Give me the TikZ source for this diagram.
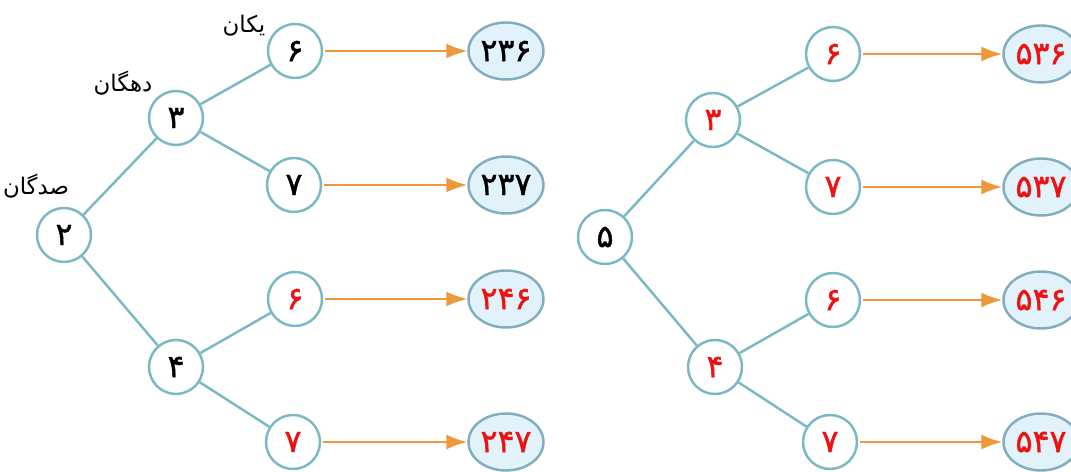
\documentclass[tikz,border=0pt]{standalone}
\usepackage{fontspec}
\usetikzlibrary{shapes.geometric,arrows.meta}
\TeXXeTstate=1
\newfontfamily\arabicfont[Script=Arabic]{DejaVu Sans}
\newfontfamily\arabicgrosso[Script=Arabic,FakeBold=1.3]{DejaVu Sans}
\definecolor{galho}{RGB}{122,184,196}
\definecolor{laranja}{RGB}{238,152,62}
\definecolor{fundo}{RGB}{226,242,250}
\definecolor{borda}{RGB}{128,174,190}
\definecolor{verm}{RGB}{236,18,18}
\tikzset{
  digito/.style={circle, draw=galho, line width=1.4pt, fill=white,
    minimum size=1.08cm, inner sep=0pt, font=\arabicgrosso\fontsize{18}{20}\selectfont},
  numero/.style={ellipse, draw=borda, line width=1.4pt, fill=fundo,
    minimum width=1.5cm, minimum height=1.14cm, inner sep=0pt,
    font=\arabicgrosso\fontsize{18}{20}\selectfont},
  rotulo/.style={font=\arabicfont\fontsize{13}{15}\selectfont},
  ligacao/.style={draw=galho, line width=1.4pt},
  seta/.style={draw=laranja, line width=1.2pt, shorten <=1pt,
    -{Latex[length=0.42cm,width=0.3cm]}}
}
\begin{document}
\begin{tikzpicture}[x=0.02cm, y=-0.02cm]
  \useasboundingbox (0,0) rectangle (1071,472);
  % árvore da esquerda
  \node[digito] (r2) at (64,235) {۲};
  \node[digito] (a3) at (176,118) {۳};
  \node[digito] (a4) at (176,367) {۴};
  \node[digito] (a36) at (295,51) {۶};
  \node[digito] (a37) at (294,185) {۷};
  \node[digito, text=verm] (a46) at (295,299) {۶};
  \node[digito, text=verm] (a47) at (293,442) {۷};
  % rótulos das ordens
  \node[rotulo] (sad) at (36,186) {\beginR صدگان\endR};
  \node[rotulo] (dah) at (123,83) {\beginR دهگان\endR};
  \node[rotulo] (yek) at (244,26) {\beginR یکان\endR};
  % resultados da esquerda
  \node[numero] (e236) at (506,51) {۲۳۶};
  \node[numero] (e237) at (506,185) {۲۳۷};
  \node[numero, text=verm] (e246) at (506,299) {۲۴۶};
  \node[numero, text=verm] (e247) at (506,442) {۲۴۷};
  % árvore da direita
  \node[digito] (b5) at (605,237) {۵};
  \node[digito, text=verm] (b3) at (713,120) {۳};
  \node[digito, text=verm] (b4) at (715,367) {۴};
  \node[digito, text=verm] (b36) at (833,54) {۶};
  \node[digito, text=verm] (b37) at (833,187) {۷};
  \node[digito, text=verm] (b46) at (833,300) {۶};
  \node[digito, text=verm] (b47) at (830,442) {۷};
  % resultados da direita
  \node[numero, text=verm] (e536) at (1041,54) {۵۳۶};
  \node[numero, text=verm] (e537) at (1041,187) {۵۳۷};
  \node[numero, text=verm] (e546) at (1041,300) {۵۴۶};
  \node[numero, text=verm] (e547) at (1041,442) {۵۴۷};
  % galhos
  \foreach \p/\f in {r2/a3, r2/a4, a3/a36, a3/a37, a4/a46, a4/a47,
                     b5/b3, b5/b4, b3/b36, b3/b37, b4/b46, b4/b47}
    \draw[ligacao] (\p) -- (\f);
  % setas até os números
  \foreach \f/\e in {a36/e236, a37/e237, a46/e246, a47/e247,
                     b36/e536, b37/e537, b46/e546, b47/e547}
    \draw[seta] (\f) -- (\e);
\end{tikzpicture}
\end{document}
